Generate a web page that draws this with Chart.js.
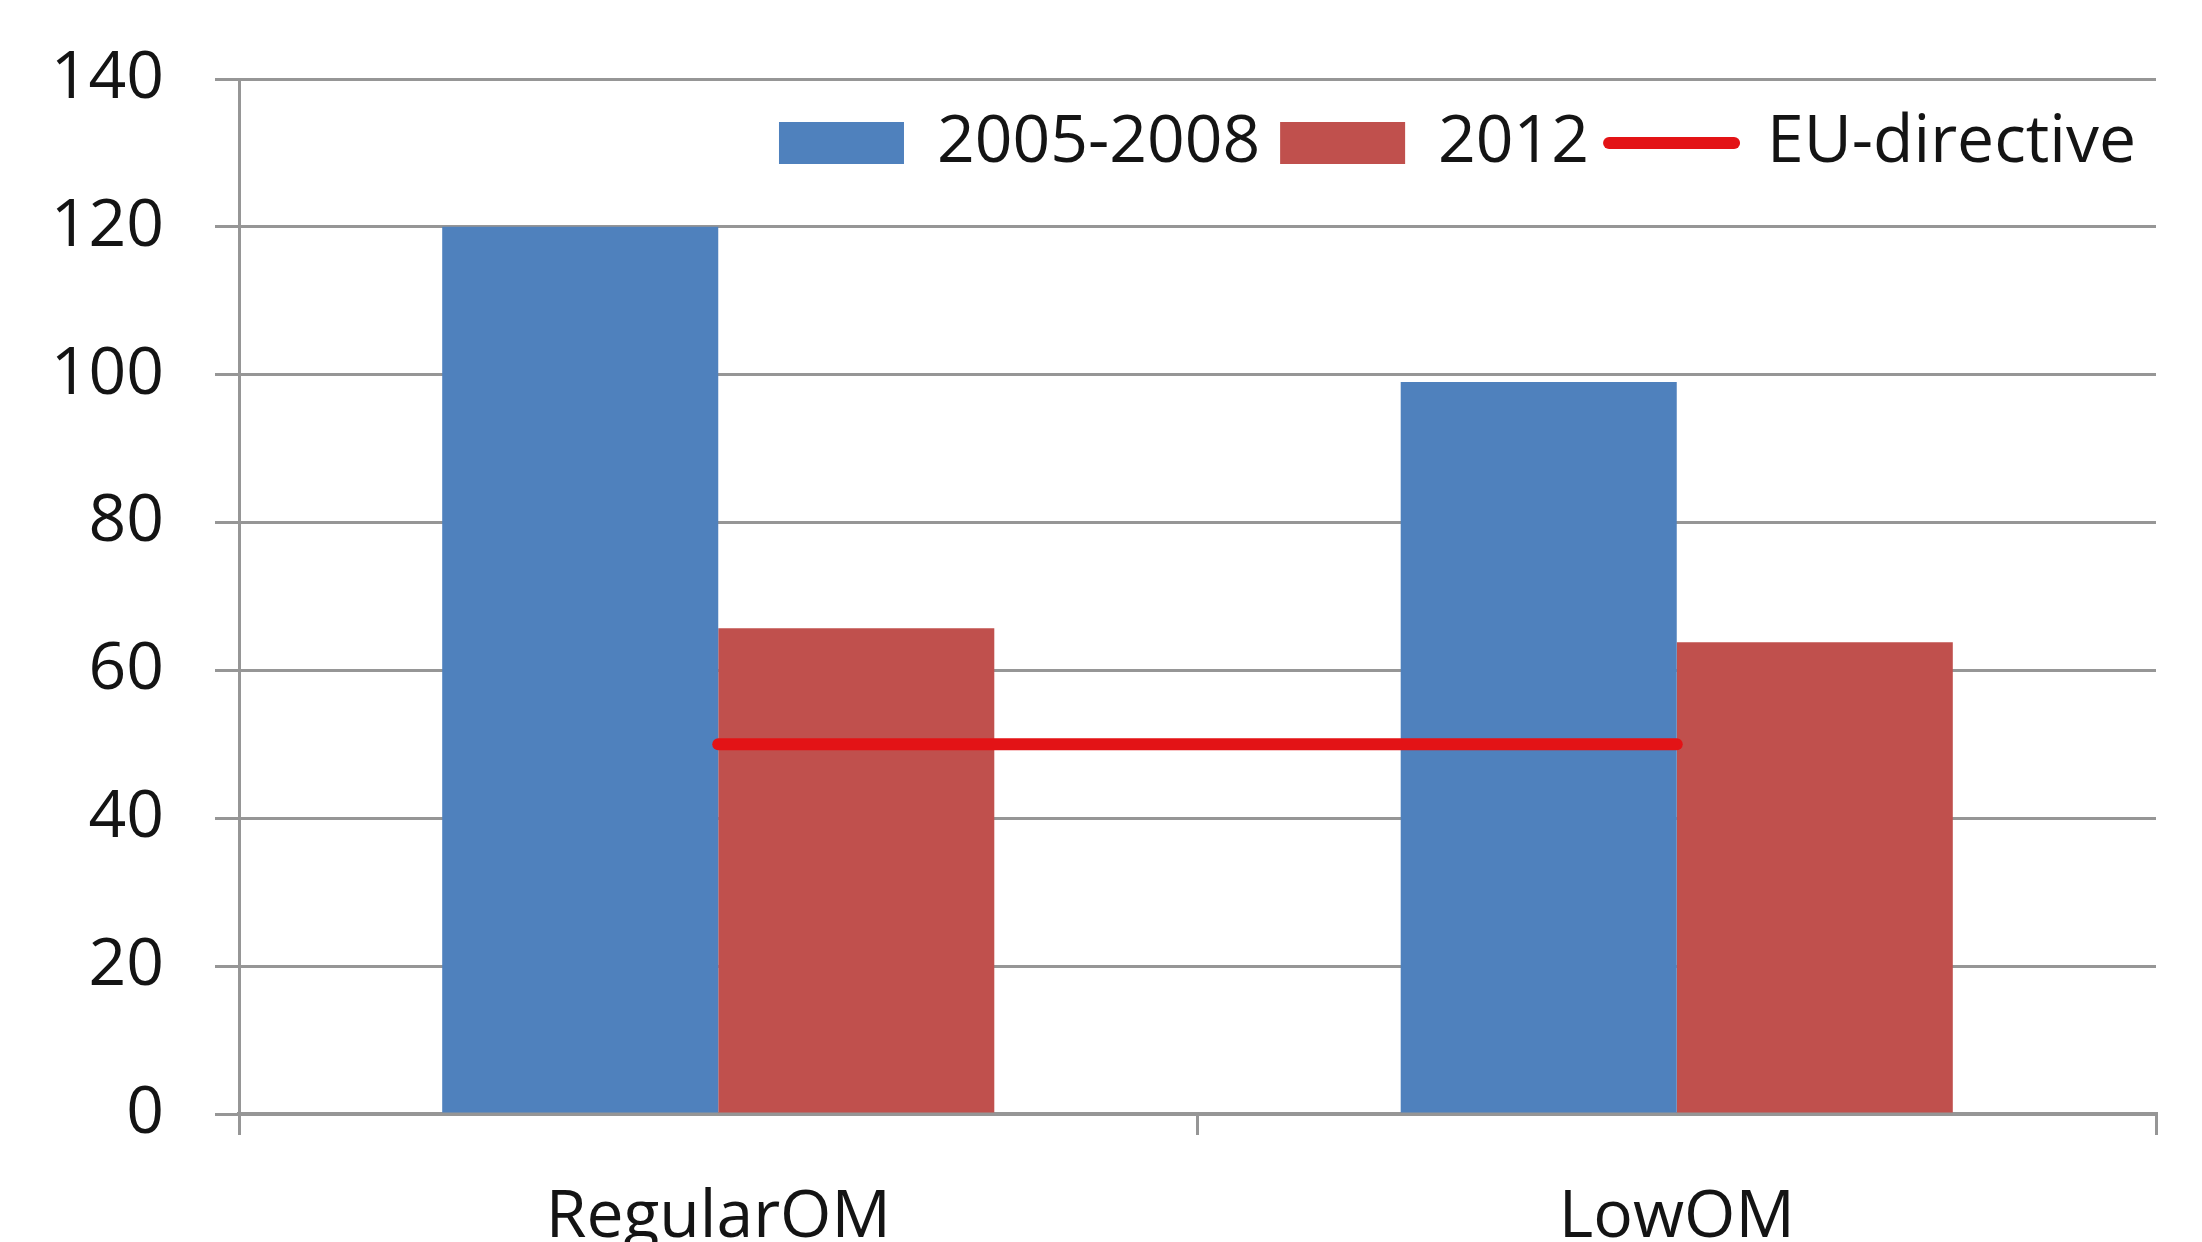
<!DOCTYPE html>
<html lang="en">
<head>
<meta charset="UTF-8" />
<title>OM chart</title>
<script src="https://cdn.jsdelivr.net/npm/chart.js"></script>
<style>
  html, body { margin: 0; padding: 0; background: #fff; overflow: hidden; }
  #wrap { width: 2202px; height: 1242px; }
</style>
</head>
<body>
<div id="wrap"><canvas id="grafico" width="2202" height="1242"></canvas></div>
<script>
  const categories = ['RegularOM', 'LowOM'];
  const values2005 = [120, 99];
  const values2012 = [65.7, 63.8];
  const euDirective = [50, 50];
  const yTicks = [0, 20, 40, 60, 80, 100, 120, 140];

  const gridGray = '#969696';
  const textColor = '#141414';
  const font = { family: 'Open Sans', size: 66 };

  const ctx = document.getElementById('grafico').getContext('2d');

  // legend sits inside the plot: take no room in the layout, then move it
  // to the top of the chart area once the layout is done
  const legendInside = {
    id: 'legendInside',
    beforeLayout(chart) {
      const lg = chart.legend;
      if (lg && !lg._inside) {
        const fit = lg.fit.bind(lg);
        lg.fit = function () { fit(); this._realHeight = this.height; this.height = 0; };
        lg._inside = true;
      }
    },
    afterLayout(chart) {
      const lg = chart.legend;
      if (!lg) return;
      lg.top = chart.chartArea.top + 11;
      lg.height = lg._realHeight;
      lg.bottom = lg.top + lg.height;
    }
  };

  new Chart(ctx, {
    type: 'bar',
    data: {
      labels: categories,
      datasets: [
        {
          label: '2005-2008',
          data: values2005,
          backgroundColor: '#4F81BD',
          borderWidth: 0,
          order: 1
        },
        {
          label: '2012',
          data: values2012,
          backgroundColor: '#C0504D',
          borderWidth: 0,
          order: 1
        },
        {
          type: 'line',
          label: 'EU-directive',
          data: euDirective,
          borderColor: '#E31316',
          backgroundColor: '#E31316',
          borderWidth: 12,
          borderCapStyle: 'round',
          pointRadius: 0,
          order: 0
        }
      ]
    },
    options: {
      responsive: false,
      animation: false,
      categoryPercentage: 0.576,
      barPercentage: 1,
      layout: { padding: { left: 0, right: 46, top: 79, bottom: 0 } },
      scales: {
        x: {
          offset: true,
          grid: {
            offset: true,
            drawOnChartArea: false,
            drawTicks: true,
            tickLength: 21,
            color: gridGray,
            lineWidth: 3
          },
          border: { color: gridGray, width: 4 },
          ticks: { color: textColor, font: font, padding: 44 },
          afterFit: (scale) => { scale.height = 128; }
        },
        y: {
          min: 0,
          max: 140,
          afterBuildTicks: (scale) => { scale.ticks = yTicks.map(v => ({ value: v })); },
          grid: {
            color: gridGray,
            lineWidth: 3,
            tickLength: 24
          },
          border: { color: gridGray, width: 3 },
          ticks: { color: textColor, font: font, padding: 51 },
          afterFit: (scale) => {
            scale.width = 239;
            scale.paddingTop = 0;
            scale.paddingBottom = 0;
          }
        }
      },
      plugins: {
        tooltip: { enabled: false },
        legend: {
          position: 'top',
          align: 'end',
          labels: {
            color: textColor,
            font: font,
            usePointStyle: true,
            pointStyleWidth: 125,
            boxHeight: 42,
            padding: 20,
            sort: (a, b) => a.datasetIndex - b.datasetIndex,
            generateLabels: (chart) => {
              const items = Chart.defaults.plugins.legend.labels.generateLabels(chart);
              items.forEach(it => {
                if (it.datasetIndex < 2) {
                  it.pointStyle = 'rect';
                  it.lineWidth = 0;
                } else {
                  it.pointStyle = 'line';
                  it.lineWidth = 12;
                  it.lineCap = 'round';
                }
              });
              return items;
            }
          }
        }
      }
    },
    plugins: [legendInside]
  });
</script>
</body>
</html>
